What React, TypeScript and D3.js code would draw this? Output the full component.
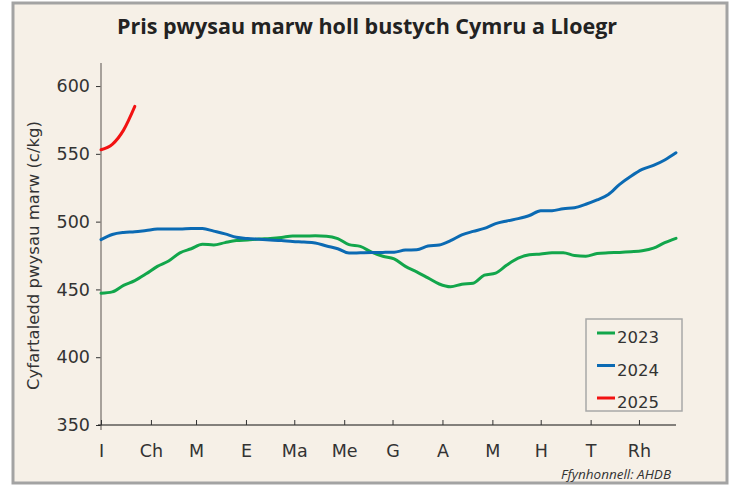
import React, { useRef, useEffect } from 'react';
import * as d3 from 'd3';

// Weekly average deadweight prices (p/kg), week index from the start of January
const weeks2023 = [
  447.2, 448.2, 453, 456.5, 461.5, 467, 471, 477, 480, 483.3, 482.8, 484.5, 486,
  486.5, 487.2, 487.6, 488.3, 489.4, 489.4, 489.5, 489.3, 487.5, 483, 481.7, 477.5, 474.5,
  472.5, 467, 463, 458.5, 454, 452, 453.8, 454.6, 460.5, 462, 468, 473, 475.5,
  476.2, 477, 477.1, 475, 474.5, 476.5, 477, 477.3, 477.8, 478.5, 480.4, 484.5, 487.7,
];
const weeks2024 = [
  486.7, 490.5, 492, 492.5, 493.5, 494.5, 494.6, 494.6, 495, 494.9, 493, 491, 488.5,
  487.5, 487, 486.5, 486, 485.3, 484.9, 484.3, 482, 480, 476.8, 477, 477.2, 477.3,
  477.5, 479, 479.3, 482, 482.8, 486, 490.2, 492.8, 495, 498.5, 500.5, 502.2, 504.5,
  508, 508.1, 509.5, 510.2, 512.8, 516, 520, 527.5, 533.5, 538.5, 541.5, 545.5, 550.8,
];
const weeks2025 = [553, 557, 567.5, 585];

const seriesNames = ['2023', '2024', '2025'];
const seriesColors = ['#12a64b', '#0b6ab3', '#f21212'];

// Welsh month initials and the day of year each month begins
const monthLabels = ['I', 'Ch', 'M', 'E', 'Ma', 'Me', 'G', 'A', 'M', 'H', 'T', 'Rh'];
const monthStartDays = [0, 31, 59, 90, 120, 151, 181, 212, 243, 273, 304, 334];

const yTicks = [350, 400, 450, 500, 550, 600];

const W = 732;
const H = 486;
const TITLE_FONT = "'Open Sans', sans-serif";
const FONT = "'DejaVu Sans', sans-serif";

const PriceChart = () => {
  const svgRef = useRef<SVGSVGElement>(null);

  useEffect(() => {
    const svg = d3.select(svgRef.current);
    svg.selectAll('*').remove();

    const margin = { top: 63, right: 56, bottom: 61, left: 101 };

    // frame
    svg.append('rect')
      .attr('x', 13).attr('y', 3)
      .attr('width', W - 13 - 5).attr('height', H - 3 - 3)
      .attr('fill', '#f6f0e7')
      .attr('stroke', '#a3a3a3')
      .attr('stroke-width', 3);

    svg.append('text')
      .attr('x', 367).attr('y', 34)
      .attr('text-anchor', 'middle')
      .attr('font-family', TITLE_FONT)
      .attr('font-weight', 700)
      .attr('font-size', 21.5)
      .attr('fill', '#222')
      .text('Pris pwysau marw holl bustych Cymru a Lloegr');

    const x = d3.scaleLinear()
      .domain([0, 51])
      .range([margin.left, W - margin.right]);

    const y = d3.scaleLinear()
      .domain([350, 617])
      .range([H - margin.bottom, margin.top]);

    // y axis
    const yAxis = svg.append('g')
      .attr('transform', `translate(${margin.left},0)`)
      .call(d3.axisLeft(y).tickValues(yTicks).tickSize(5).tickPadding(6).tickSizeOuter(0));
    yAxis.select('.domain').remove();
    yAxis.selectAll('.tick line').attr('stroke', '#333');
    yAxis.selectAll('.tick text')
      .attr('font-family', FONT)
      .attr('font-size', 17.5)
      .attr('fill', '#333');
    svg.append('line')
      .attr('x1', margin.left).attr('x2', margin.left)
      .attr('y1', y(617)).attr('y2', y(350) + 5)
      .attr('stroke', '#8c8782')
      .attr('stroke-width', 1.5);

    // x axis (month ticks point inward)
    const xAxis = svg.append('g')
      .attr('transform', `translate(0,${y(350)})`)
      .call(d3.axisBottom(x)
        .tickValues(monthStartDays.map(d => d / 7))
        .tickFormat((_, i) => monthLabels[i])
        .tickSize(-5)
        .tickPadding(20)
        .tickSizeOuter(0));
    xAxis.select('.domain').attr('stroke', '#111').attr('d', `M${margin.left - 3},0H${x(51)}`);
    xAxis.selectAll('.tick line').attr('stroke', '#333');
    xAxis.selectAll('.tick text')
      .attr('font-family', FONT)
      .attr('font-size', 17.5)
      .attr('fill', '#333');

    const line = d3.line<number>()
      .x((_, i) => x(i))
      .y(d => y(d))
      .curve(d3.curveMonotoneX);

    [weeks2023, weeks2024, weeks2025].forEach((data, i) => {
      svg.append('path')
        .datum(data)
        .attr('fill', 'none')
        .attr('stroke', seriesColors[i])
        .attr('stroke-width', 3)
        .attr('stroke-linecap', 'round')
        .attr('d', line);
    });

    // y axis title
    svg.append('text')
      .attr('transform', `translate(39,255.5) rotate(-90)`)
      .attr('text-anchor', 'middle')
      .attr('font-family', FONT)
      .attr('font-size', 16.5)
      .attr('fill', '#333')
      .text('Cyfartaledd pwysau marw (c/kg)');

    // legend
    const legend = svg.append('g').attr('transform', 'translate(586,319)');
    legend.append('rect')
      .attr('width', 96).attr('height', 92)
      .attr('fill', 'none')
      .attr('stroke', '#a8a8a8')
      .attr('stroke-width', 1.5);
    seriesNames.forEach((name, i) => {
      const row = legend.append('g').attr('transform', `translate(0,${14 + i * 32.5})`);
      row.append('line')
        .attr('x1', 11).attr('x2', 29)
        .attr('stroke', seriesColors[i])
        .attr('stroke-width', 3);
      row.append('text')
        .attr('x', 31).attr('y', 10)
        .attr('font-family', FONT)
        .attr('font-size', 16.5)
        .attr('fill', '#333')
        .text(name);
    });

    svg.append('text')
      .attr('x', 671).attr('y', 478.5)
      .attr('text-anchor', 'end')
      .attr('font-family', TITLE_FONT)
      .attr('font-style', 'italic')
      .attr('font-size', 13.5)
      .attr('fill', '#333')
      .text('Ffynhonnell: AHDB');
  }, []);

  return <svg ref={svgRef} width={W} height={H} style={{ display: 'block' }}></svg>;
};

export default function App() {
  useEffect(() => {
    document.body.style.margin = '0';
  }, []);
  return <PriceChart />;
}
